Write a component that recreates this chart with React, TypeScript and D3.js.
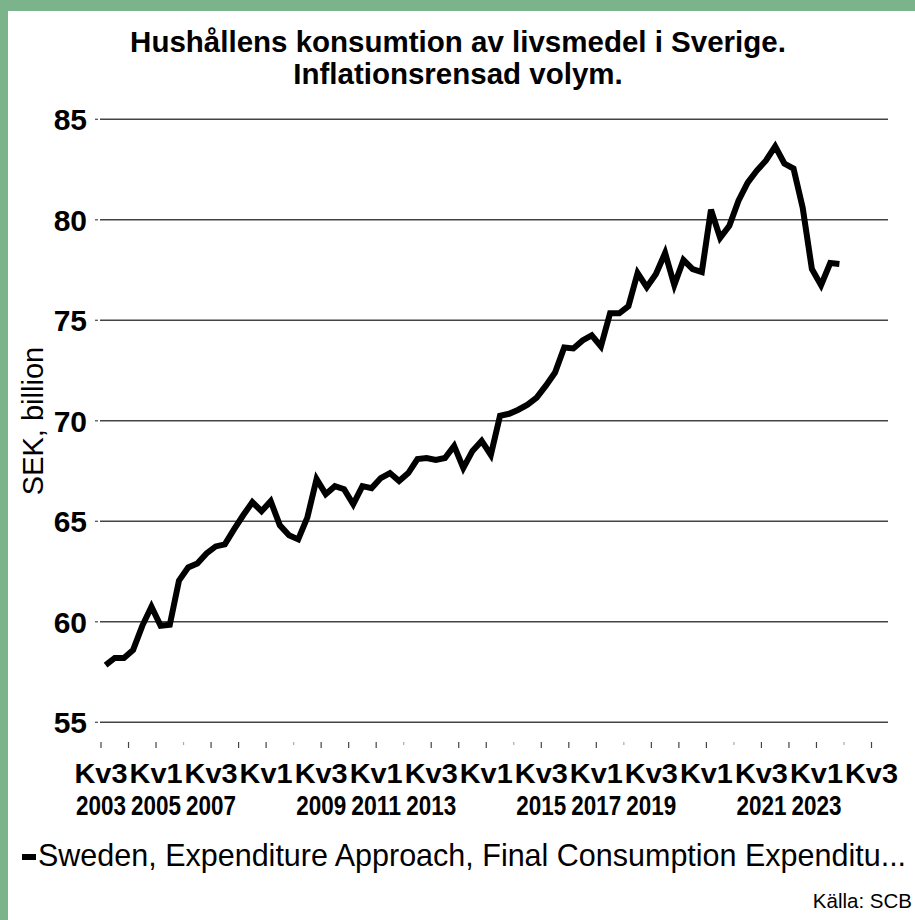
import React from "react";
import * as d3 from "d3";

const titleLines = [
  "Hushållens konsumtion av livsmedel i Sverige.",
  "Inflationsrensad volym.",
];
const yTicks = [55, 60, 65, 70, 75, 80, 85];
const quarterLabels = [
  "Kv3", "Kv1", "Kv3", "Kv1", "Kv3", "Kv1", "Kv3", "Kv1",
  "Kv3", "Kv1", "Kv3", "Kv1", "Kv3", "Kv1", "Kv3",
];
const yearLabels = [
  "2003", "2005", "2007", "", "2009", "2011", "2013", "",
  "2015", "2017", "2019", "", "2021", "2023", "",
];
// quarterly volume, SEK billion, first point Kv3 2003
const values = [
  57.85, 58.2, 58.2, 58.6, 59.8, 60.75, 59.8, 59.85, 62.05, 62.7,
  62.9, 63.4, 63.75, 63.85, 64.6, 65.3, 65.95, 65.5, 66.0, 64.8,
  64.3, 64.1, 65.2, 67.1, 66.35, 66.75, 66.6, 65.85, 66.75, 66.65,
  67.15, 67.4, 67.0, 67.4, 68.1, 68.15, 68.05, 68.15, 68.75, 67.65,
  68.5, 69.0, 68.3, 70.25, 70.35, 70.55, 70.8, 71.15, 71.75, 72.4,
  73.65, 73.6, 74.0, 74.25, 73.7, 75.35, 75.35, 75.7, 77.35, 76.65,
  77.3, 78.35, 76.75, 78.0, 77.55, 77.4, 80.5, 79.1, 79.7, 80.95,
  81.85, 82.45, 82.95, 83.65, 82.8, 82.55, 80.6, 77.55, 76.75, 77.85,
  77.8,
];
const seriesName = "Sweden, Expenditure Approach, Final Consumption Expenditu...";
const source = "Källa: SCB";

const W = 915;
const H = 920;
const font = "'Liberation Sans', Arial, sans-serif";

export default function App() {
  // axis holds 84 quarters, data fills the first 81
  const x = d3.scaleLinear().domain([-0.5, 83.5]).range([101, 871.5]);
  const y = d3.scaleLinear().domain([55, 85]).range([722.3, 119.3]);

  const line = d3
    .line<number>()
    .x((d, i) => x(i))
    .y((d) => y(d));

  const tickIdx = d3.range(0, 29);

  return (
    <div style={{ position: "absolute", left: 0, top: 0 }}>
      <svg width={W} height={H} style={{ display: "block" }}>
        <rect width={W} height={H} fill="#fff" />
        <rect width={W} height={11} fill="#7bb38b" />
        <rect width={8} height={H} fill="#7bb38b" />

        {titleLines.map((t, i) => (
          <text
            key={t}
            x={458}
            y={52 + i * 32}
            textAnchor="middle"
            fontFamily={font}
            fontWeight="bold"
            fontSize={29.5}
          >
            {t}
          </text>
        ))}

        {yTicks.map((v) => (
          <g key={v}>
            <line x1={95} x2={98} y1={y(v)} y2={y(v)} stroke="#555" strokeWidth={1.3} />
            <line x1={100} x2={888} y1={y(v)} y2={y(v)} stroke="#444" strokeWidth={1.4} />
            <text
              x={87}
              y={y(v)}
              dy="0.36em"
              textAnchor="end"
              fontFamily={font}
              fontWeight="bold"
              fontSize={30}
            >
              {v}
            </text>
          </g>
        ))}

        <text
          transform="translate(43,421) rotate(-90)"
          textAnchor="middle"
          fontFamily={font}
          fontSize={29}
        >
          SEK, billion
        </text>

        {tickIdx.map((k) => {
          const tx = x(-0.5 + k * 3);
          const minor = k % 4 === 3;
          return (
            <line
              key={k}
              x1={tx}
              x2={tx}
              y1={742}
              y2={minor ? 745 : 748}
              stroke={minor ? "#aaa" : "#444"}
              strokeWidth={1.2}
            />
          );
        })}

        {quarterLabels.map((q, j) => (
          <text
            key={"q" + j}
            x={x(-0.5 + j * 6)}
            y={783}
            textAnchor="middle"
            fontFamily={font}
            fontWeight="bold"
            fontSize={28}
            textLength={53}
            lengthAdjust="spacingAndGlyphs"
          >
            {q}
          </text>
        ))}
        {yearLabels.map((yl, j) =>
          yl ? (
            <text
              key={"y" + j}
              x={x(-0.5 + j * 6)}
              y={815}
              textAnchor="middle"
              fontFamily={font}
              fontWeight="bold"
              fontSize={27}
              textLength={50}
              lengthAdjust="spacingAndGlyphs"
            >
              {yl}
            </text>
          ) : null
        )}

        <path
          d={line(values) || ""}
          fill="none"
          stroke="#000"
          strokeWidth={6}
          strokeLinejoin="miter"
        />

        <line x1={22} x2={36} y1={857} y2={857} stroke="#000" strokeWidth={6} />
        <text x={38} y={866} fontFamily={font} fontSize={30.5}>
          {seriesName}
        </text>
        <text x={912} y={908} textAnchor="end" fontFamily={font} fontSize={20.5}>
          {source}
        </text>
      </svg>
    </div>
  );
}
